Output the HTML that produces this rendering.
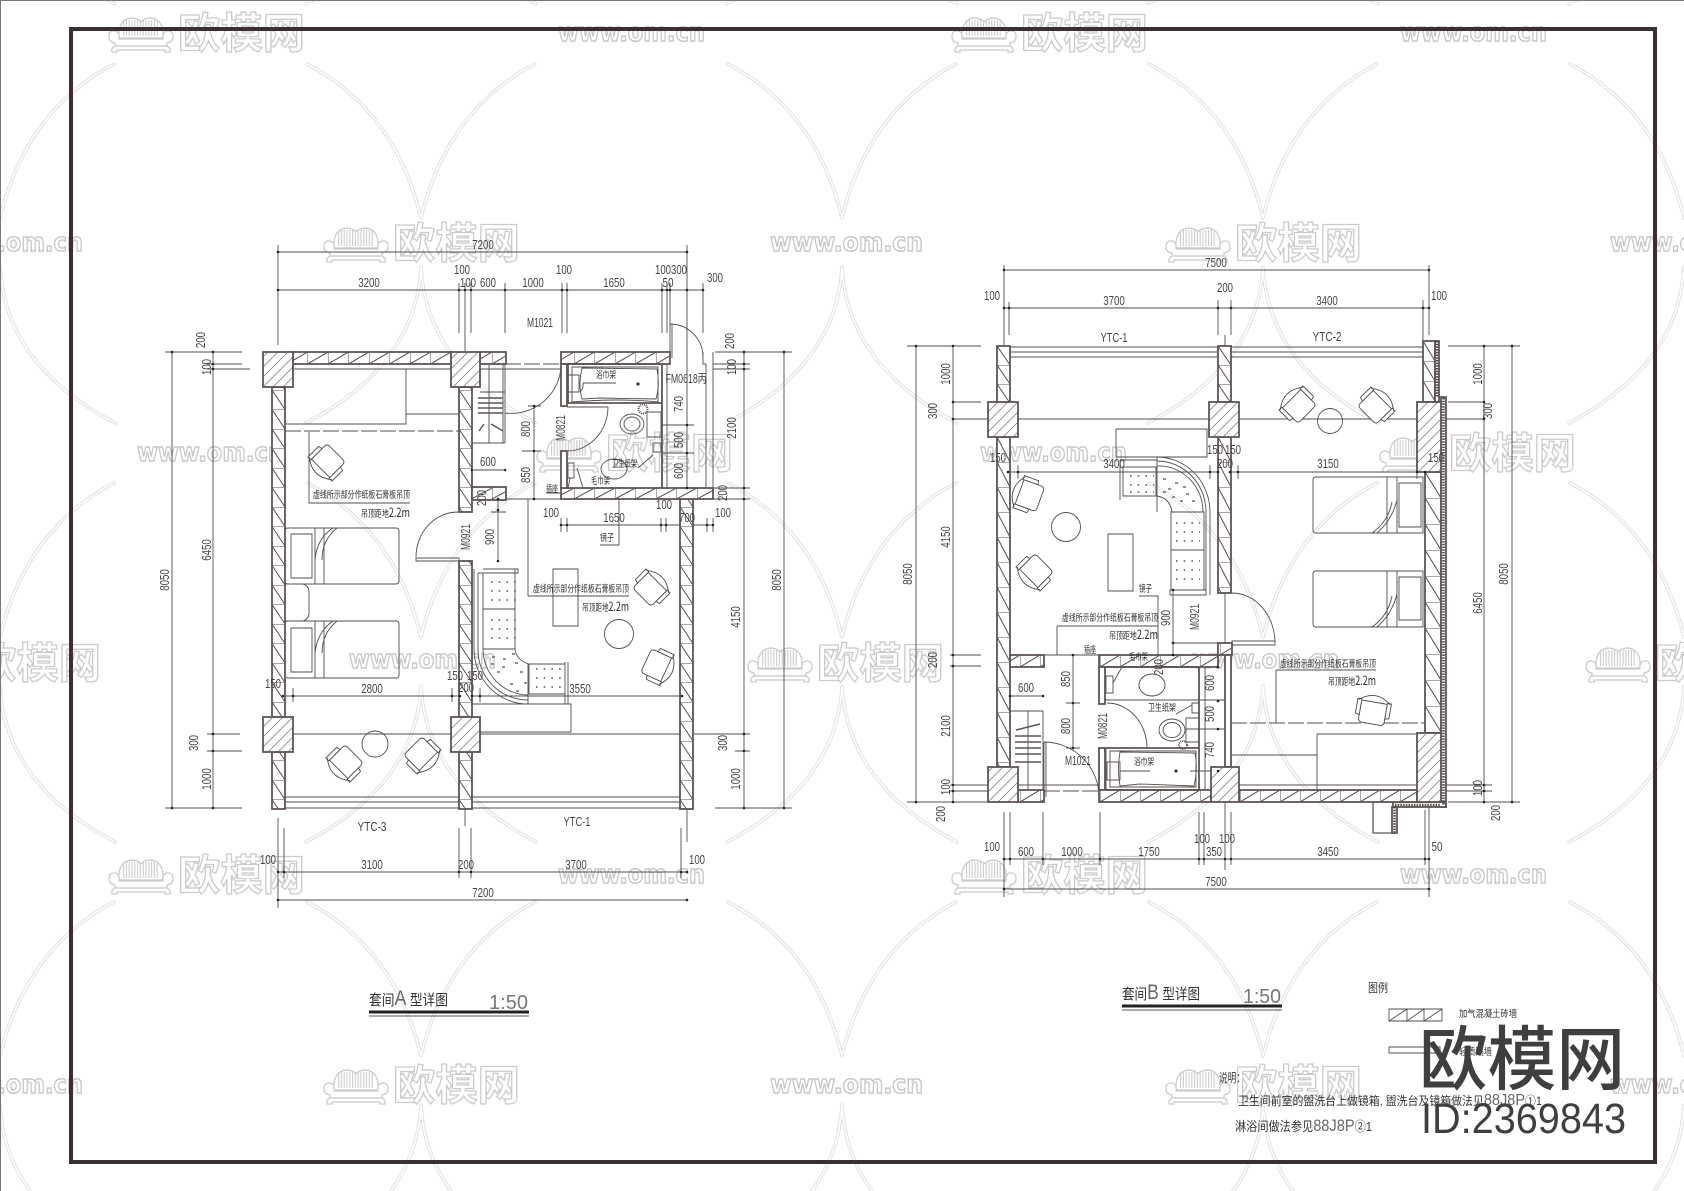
<!DOCTYPE html>
<html><head><meta charset="utf-8"><title>套间详图</title>
<style>
html,body{margin:0;padding:0;background:#fff}
svg{display:block}
text{font-family:"Liberation Sans","Noto Sans CJK SC",sans-serif;fill:#484442}
.d{font-size:12.5px;text-anchor:middle}
.c{font-size:9.5px;font-family:"Noto Sans CJK SC","Liberation Sans",sans-serif;fill:#2c2c2c}
.lg{font-size:42px;font-family:"Noto Sans CJK SC",sans-serif;font-weight:bold;fill:#fff;stroke:#cbcbcb;stroke-width:1.3}
.ww{font-size:26px;font-family:"DejaVu Sans",sans-serif;font-weight:bold;fill:#fff;stroke:#c8c8c8;stroke-width:1.5}
.l{fill:none;stroke:#534f4d;stroke-width:.9}
.ds{fill:none;stroke:#534f4d;stroke-width:.9;stroke-dasharray:16 3}
.t{fill:none;stroke:#222;stroke-width:3;stroke-linecap:round}
.w{stroke:#5d5553;stroke-width:1.8}
.h{fill:none;stroke:#5d5553;stroke-width:1.8}
.x{fill:none;stroke:#555;stroke-width:1.6;stroke-dasharray:1.6 6.1}
.ch{fill:#fff;stroke:#4f4b49;stroke-width:.9}
</style></head><body>
<svg xmlns="http://www.w3.org/2000/svg" width="1684" height="1191" viewBox="0 0 1684 1191">
<defs>
<pattern id="tile" patternUnits="userSpaceOnUse" x="-210.5" y="40" width="421" height="419">
<path d="M96.5,24Q184.5,70 210.5,178Q236.5,70 324.5,24M95.5,383Q205.5,325 210.5,227Q215.5,325 325.5,383" fill="none" stroke="#e3e3e3" stroke-width="3.6" stroke-linecap="round" stroke-linejoin="round"/>
<path d="M96.5,24Q184.5,70 210.5,178Q236.5,70 324.5,24M95.5,383Q205.5,325 210.5,227Q215.5,325 325.5,383" fill="none" stroke="#fff" stroke-width="1.5" stroke-linecap="round" stroke-linejoin="round"/>
</pattern>
<pattern id="wv" patternUnits="userSpaceOnUse" x="272" y="0" width="13" height="19.5">
<rect width="13" height="19.5" fill="#fff"/><path d="M0,0H13M0,0L13,19.5" stroke="#55504e" stroke-width="1" fill="none"/>
</pattern>
<pattern id="wvb" patternUnits="userSpaceOnUse" x="459" y="0" width="13" height="19.5">
<rect width="13" height="19.5" fill="#fff"/><path d="M0,0H13M0,0L13,19.5" stroke="#55504e" stroke-width="1" fill="none"/>
</pattern>
<pattern id="wv2" patternUnits="userSpaceOnUse" x="1010" y="437" width="13" height="25">
<rect width="13" height="25" fill="#fff"/><path d="M0,0H13M0,0L13,25" stroke="#55504e" stroke-width="1" fill="none"/>
</pattern>
<pattern id="wv3" patternUnits="userSpaceOnUse" x="1423" y="341" width="12" height="20">
<rect width="12" height="20" fill="#fff"/><path d="M0,0H12M0,0L12,20" stroke="#55504e" stroke-width="1" fill="none"/>
</pattern>
<pattern id="wv4" patternUnits="userSpaceOnUse" x="1425" y="472" width="16" height="26">
<rect width="16" height="26" fill="#fff"/><path d="M0,0H16M0,0L16,26" stroke="#55504e" stroke-width="1" fill="none"/>
</pattern>
<pattern id="wv5" patternUnits="userSpaceOnUse" x="997" y="346" width="13" height="19">
<rect width="13" height="19" fill="#fff"/><path d="M0,0H13M0,0L13,19" stroke="#55504e" stroke-width="1" fill="none"/>
</pattern>
<pattern id="wh" patternUnits="userSpaceOnUse" x="0" y="352" width="20.5" height="12">
<rect width="20.5" height="12" fill="#fff"/><path d="M0,0V12M0,12L20.5,0" stroke="#55504e" stroke-width="1" fill="none"/>
</pattern>
<pattern id="wh2" patternUnits="userSpaceOnUse" x="0" y="790" width="20" height="12">
<rect width="20" height="12" fill="#fff"/><path d="M0,0V12M0,12L20,0" stroke="#55504e" stroke-width="1" fill="none"/>
</pattern>
<pattern id="wh3" patternUnits="userSpaceOnUse" x="0" y="655" width="20" height="12">
<rect width="20" height="12" fill="#fff"/><path d="M0,0V12M0,12L20,0" stroke="#55504e" stroke-width="1" fill="none"/>
</pattern>
<pattern id="wh4" patternUnits="userSpaceOnUse" x="0" y="488" width="20.5" height="11">
<rect width="20.5" height="11" fill="#fff"/><path d="M0,0V11M0,11L20.5,0" stroke="#55504e" stroke-width="1" fill="none"/>
</pattern>
<pattern id="col" patternUnits="userSpaceOnUse" width="10" height="10">
<rect width="10" height="10" fill="#fff"/><path d="M-1,11L11,-1M-1,1L1,-1M9,11L11,9" stroke="#8f8b89" stroke-width=".9" fill="none"/>
</pattern>
<g id="ch">
<path class="ch" d="M-13,-9Q-13,-13 -9,-13H9Q13,-13 13,-9V9H-13Z"/>
<path class="ch" d="M-17,-5L-13,-6V10H-17ZM17,-5L13,-6V10H17Z"/>
<path class="ch" style="fill:none" d="M-16,9Q0,22 16,9"/>
</g>
<g id="s" fill="#fff" stroke="#cbcbcb" stroke-width="1.3">
<path d="M12,24C10,0 30,2 34,8C38,2 58,0 56,24Z"/>
<path d="M16,14H52" stroke="#d0d0d0" stroke-width="16" stroke-dasharray="1.2 1.6" fill="none"/>
<path d="M2,23Q2,16 8,17Q13,18 12,25H56Q55,18 60,17Q66,16 66,23Q66,28 60,29V32H8V29Q2,28 2,23Z"/>
<path d="M8,32H60Q64,34 63,38H58V36H10V38H5Q4,34 8,32Z"/>
</g>
</defs>
<rect width="1684" height="1191" fill="#fff"/>
<rect width="1684" height="1191" fill="url(#tile)"/>

<!-- watermark -->
<g>
<use href="#s" x="107" y="14"/><text class="lg" x="178" y="48" textLength="127" lengthAdjust="spacingAndGlyphs">欧模网</text>
<use href="#s" x="950" y="14"/><text class="lg" x="1021" y="48" textLength="127" lengthAdjust="spacingAndGlyphs">欧模网</text>
<use href="#s" x="322" y="224"/><text class="lg" x="393" y="258" textLength="127" lengthAdjust="spacingAndGlyphs">欧模网</text>
<use href="#s" x="1164" y="224"/><text class="lg" x="1235" y="258" textLength="127" lengthAdjust="spacingAndGlyphs">欧模网</text>
<use href="#s" x="535" y="434"/><text class="lg" x="606" y="468" textLength="127" lengthAdjust="spacingAndGlyphs">欧模网</text>
<use href="#s" x="1378" y="434"/><text class="lg" x="1449" y="468" textLength="127" lengthAdjust="spacingAndGlyphs">欧模网</text>
<use href="#s" x="-97" y="644"/><text class="lg" x="-26" y="678" textLength="127" lengthAdjust="spacingAndGlyphs">欧模网</text>
<use href="#s" x="746" y="644"/><text class="lg" x="817" y="678" textLength="127" lengthAdjust="spacingAndGlyphs">欧模网</text>
<use href="#s" x="1584" y="644"/><text class="lg" x="1655" y="678" textLength="127" lengthAdjust="spacingAndGlyphs">欧模网</text>
<use href="#s" x="107" y="856"/><text class="lg" x="178" y="890" textLength="127" lengthAdjust="spacingAndGlyphs">欧模网</text>
<use href="#s" x="950" y="856"/><text class="lg" x="1021" y="890" textLength="127" lengthAdjust="spacingAndGlyphs">欧模网</text>
<use href="#s" x="322" y="1066"/><text class="lg" x="393" y="1100" textLength="127" lengthAdjust="spacingAndGlyphs">欧模网</text>
<use href="#s" x="1164" y="1066"/><text class="lg" x="1235" y="1100" textLength="127" lengthAdjust="spacingAndGlyphs">欧模网</text>
<text class="ww" x="558" y="41" textLength="147" lengthAdjust="spacingAndGlyphs">www.om.cn</text>
<text class="ww" x="1400" y="41" textLength="147" lengthAdjust="spacingAndGlyphs">www.om.cn</text>
<text class="ww" x="-64" y="251" textLength="147" lengthAdjust="spacingAndGlyphs">www.om.cn</text>
<text class="ww" x="770" y="251" textLength="153" lengthAdjust="spacingAndGlyphs">www.om.cn</text>
<text class="ww" x="1610" y="251" textLength="147" lengthAdjust="spacingAndGlyphs">www.om.cn</text>
<text class="ww" x="137" y="461" textLength="147" lengthAdjust="spacingAndGlyphs">www.om.cn</text>
<text class="ww" x="980" y="461" textLength="147" lengthAdjust="spacingAndGlyphs">www.om.cn</text>
<text class="ww" x="349" y="668" textLength="147" lengthAdjust="spacingAndGlyphs">www.om.cn</text>
<text class="ww" x="1192" y="668" textLength="147" lengthAdjust="spacingAndGlyphs">www.om.cn</text>
<text class="ww" x="558" y="883" textLength="147" lengthAdjust="spacingAndGlyphs">www.om.cn</text>
<text class="ww" x="1400" y="883" textLength="147" lengthAdjust="spacingAndGlyphs">www.om.cn</text>
<text class="ww" x="-64" y="1093" textLength="147" lengthAdjust="spacingAndGlyphs">www.om.cn</text>
<text class="ww" x="770" y="1093" textLength="153" lengthAdjust="spacingAndGlyphs">www.om.cn</text>
<text class="ww" x="1610" y="1093" textLength="147" lengthAdjust="spacingAndGlyphs">www.om.cn</text>
</g>

<!-- border & frame -->
<path d="M.5,1191V.5H1684" fill="none" stroke="#777" stroke-width="1"/>
<rect x="71" y="29" width="1584" height="1133" fill="none" stroke="#3a2f36" stroke-width="4"/>

<!-- ============ PLAN A ============ -->
<path class="l" d="M278,245V345M278,352V809M278,818V908M278,252H687M278,290H703M284,828V878M459,283V333M465,283V352M471,283V333M505,283V333M562,283V333M567,283V333M662,283V333M667,283V333M670,283V325M687,245V842M703,283V333
M165,352H242M207,364H242M172,352V808M213,352V808M165,808H242M207,751H242
M715,352H792M713,364H750M713,369H750M713,488H750M713,499H750M744,352V808M784,352V808M715,808H792M735,751H750
M207,369H250M207,734H240M278,369H459M465,369H568M690,734H750M293,734H451M480,734H680
M534,406V499M528,406H541M522,451H541M500,499H561M498,499V561M491,512H506M528,499V596M528,596H629
M309,432V503H410M533,592H533
M285,424H406V369M406,414H459
M505,352V443M472,443H505M480,392H505M489,364V443M503,364V443
M505,364V413
M416,557A42,45 0 0 1 458,512M416,558H459V561H416Z
M567,407H608M608,407A41,44 0 0 1 568,451
M505,413A50,49 0 0 0 561,364
M670,324V358M672,324V358M670,324A33,33 0 0 1 703,357
M568,403V364H662V403ZM572,402Q620,398 658,402V367H572Z
M582,368L657,369Q660,385 656,399L600,398L582,399Q578,385 582,368ZM568,375H579V392H568Z
M583,383H616L597,383M583,383Q584,388 580,392
M647,412H661V437H647ZM662,425H694M662,453H694M638,468L653,455M653,443H661V452H653Z
M568,463H574V478H568ZM577,468L583,488M566,499L570,478
M546,493H562M619,487V545H600
M662,364V488M667,364V488M706,364V488M703,352V364H706M713,352V499
M561,525H713M561,518V532M567,518V532M661,518V532M666,518V532M707,518V532M713,518V532
M278,872H687M278,900H687M459,828V878M471,828V878M681,828V878M465,809V826
M283,688V702M293,688V702M452,688V702M460,688V702M472,688V702M480,688V702M283,696H680
M285,797H459M285,802H459M285,808H459M472,797H680M472,802H680M472,808H680
M288,528Q285,528 285,531V581Q285,584 288,584H396Q399,584 399,581V531Q399,528 396,528Z
M288,621Q285,621 285,624V675Q285,678 288,678H396Q399,678 399,675V624Q399,621 396,621Z
M291,534H312V578H291ZM291,628H312V672H291ZM315,528V584M324,528V584M315,621V678M324,621V678M315,560Q317,538 333,528M322,560Q322,540 337,528M315,653Q317,632 333,621M322,653Q322,633 337,621
M285,584H303Q309,586 309,592V613Q309,619 303,621H285
M553,569H578V626H553Z
M474,569V649M478,573V649M483,569H518V573H478M483,573V649H515V569M483,609H515
M474,649A54,55 0 0 0 528,704M478,649A50,50 0 0 0 528,700M483,649A46,46 0 0 0 528,695M515,649Q516,660 529,664M529,664H565V694H529ZM565,662V704M568,662V704M472,704H568M528,664V704M480,704H571V732H480"/>
<path class="ds" d="M285,431H459M505,364H561"/>
<g class="w">
<rect x="272" y="387" width="13" height="330" fill="url(#wv)"/>
<rect x="272" y="752" width="13" height="57" fill="url(#wv)"/>
<rect x="459" y="387" width="13" height="125" fill="url(#wvb)"/>
<rect x="459" y="561" width="13" height="156" fill="url(#wvb)"/>
<rect x="459" y="752" width="13" height="57" fill="url(#wvb)"/>
<rect x="680" y="499" width="13" height="310" fill="url(#wvb)"/>
<rect x="293" y="352" width="158" height="12" fill="url(#wh)"/>
<rect x="480" y="352" width="26" height="12" fill="url(#wh)"/>
<rect x="561" y="352" width="109" height="12" fill="url(#wh)"/>
<rect x="561" y="488" width="152" height="11" fill="url(#wh4)"/>
<rect x="472" y="487" width="34" height="13" fill="url(#wh4)"/>
<rect x="561" y="364" width="6" height="42" fill="#fff"/>
<rect x="561" y="451" width="6" height="37" fill="#fff"/>
<rect x="263" y="352" width="30" height="35" fill="url(#col)"/>
<rect x="451" y="352" width="29" height="35" fill="url(#col)"/>
<rect x="263" y="717" width="30" height="35" fill="url(#col)"/>
<rect x="451" y="717" width="29" height="35" fill="url(#col)"/>
</g>
<path class="l" d="M272,387H285M459,387H472"/>
<path class="h" d="M478,398H503M478,403H503M478,408H503M478,413H503M479,431L484,424M491,424L503,431" style="stroke-width:1.4"/>
<path class="h" style="stroke-width:1.8" d="M568,364H662M568,403H662M568,364V403M662,364V488"/>
<path class="x" d="M491,582H516M491,591H516M491,600H516M491,620H516M491,629H516M491,638H516M536,669H562M536,678H562M536,687H562"/>
<path class="l" d="M492,657h3M502,667h3M512,654h3M520,672h3M497,672h3M510,684h3M524,683h3M503,659h3M491,664h3M516,691h3M515,663h3" style="stroke-width:1.2"/>
<circle class="l" cx="375" cy="744" r="13"/>
<circle class="l" cx="619" cy="634" r="14.5"/>
<ellipse class="l" cx="632" cy="424" rx="12" ry="10"/>
<ellipse class="l" cx="632" cy="424" rx="8" ry="7"/>
<circle class="l" cx="643" cy="409" r="4.5" style="stroke-width:2;stroke-dasharray:1 1"/>
<ellipse class="l" cx="614" cy="469" rx="13" ry="10"/>
<circle cx="638" cy="384" r="1.6" fill="#333"/>
<use href="#ch" transform="translate(327,462) rotate(45)"/>
<use href="#ch" transform="translate(345,763) rotate(45)"/>
<use href="#ch" transform="translate(422,755) rotate(-45)"/>
<use href="#ch" transform="translate(651,588) rotate(-135)"/>
<use href="#ch" transform="translate(658,666) rotate(-65)"/>
<path class="t" d="M278,252h0M687,252h0M278,290h0M459,290h0M465,290h0M471,290h0M505,290h0M562,290h0M567,290h0M662,290h0M667,290h0M670,290h0M687,290h0M703,290h0M172,352h0M213,352h0M213,364h0M213,369h0M213,734h0M213,751h0M213,808h0M172,808h0M744,352h0M784,352h0M744,364h0M744,369h0M744,488h0M744,499h0M744,734h0M744,751h0M744,808h0M784,808h0M534,406h0M534,451h0M534,499h0M498,499h0M498,510h0M498,561h0M472,470h0M505,470h0M687,425h0M687,453h0M687,488h0M561,525h0M567,525h0M661,525h0M666,525h0M707,525h0M713,525h0M283,696h0M293,696h0M452,696h0M460,696h0M472,696h0M480,696h0M682,696h0M278,872h0M284,872h0M459,872h0M471,872h0M681,872h0M687,872h0M278,900h0M687,900h0" style="stroke-width:2.6"/>
<path class="l" d="M472,470H505"/>
<g>
<text class="d" x="483" y="249" textLength="21.6" lengthAdjust="spacingAndGlyphs">7200</text>
<text class="d" x="369" y="287" textLength="21.6" lengthAdjust="spacingAndGlyphs">3200</text>
<text class="d" x="462" y="274" textLength="16" lengthAdjust="spacingAndGlyphs">100</text>
<text class="d" x="468" y="287" textLength="16" lengthAdjust="spacingAndGlyphs">100</text>
<text class="d" x="488" y="287" textLength="16" lengthAdjust="spacingAndGlyphs">600</text>
<text class="d" x="533" y="287" textLength="21.6" lengthAdjust="spacingAndGlyphs">1000</text>
<text class="d" x="564" y="274" textLength="16" lengthAdjust="spacingAndGlyphs">100</text>
<text class="d" x="614" y="287" textLength="21.6" lengthAdjust="spacingAndGlyphs">1650</text>
<text class="d" x="663" y="274" textLength="16" lengthAdjust="spacingAndGlyphs">100</text>
<text class="d" x="679" y="274" textLength="16" lengthAdjust="spacingAndGlyphs">300</text>
<text class="d" x="668" y="287" textLength="11" lengthAdjust="spacingAndGlyphs">50</text>
<text class="d" x="715" y="282" textLength="16" lengthAdjust="spacingAndGlyphs">300</text>
<text class="d" x="540" y="327" textLength="26" lengthAdjust="spacingAndGlyphs">M1021</text>
<text class="d" x="205" y="340" transform="rotate(-90 205 340)" textLength="16" lengthAdjust="spacingAndGlyphs">200</text>
<text class="d" x="211" y="367" transform="rotate(-90 211 367)" textLength="16" lengthAdjust="spacingAndGlyphs">100</text>
<text class="d" x="211" y="550" transform="rotate(-90 211 550)" textLength="21.6" lengthAdjust="spacingAndGlyphs">6450</text>
<text class="d" x="169" y="580" transform="rotate(-90 169 580)" textLength="21.6" lengthAdjust="spacingAndGlyphs">8050</text>
<text class="d" x="198" y="743" transform="rotate(-90 198 743)" textLength="16" lengthAdjust="spacingAndGlyphs">300</text>
<text class="d" x="211" y="779" transform="rotate(-90 211 779)" textLength="21.6" lengthAdjust="spacingAndGlyphs">1000</text>
<text class="d" x="734" y="341" transform="rotate(-90 734 341)" textLength="16" lengthAdjust="spacingAndGlyphs">200</text>
<text class="d" x="736" y="367" transform="rotate(-90 736 367)" textLength="16" lengthAdjust="spacingAndGlyphs">100</text>
<text class="d" x="736" y="428" transform="rotate(-90 736 428)" textLength="21.6" lengthAdjust="spacingAndGlyphs">2100</text>
<text class="d" x="727" y="493" transform="rotate(-90 727 493)" textLength="16" lengthAdjust="spacingAndGlyphs">200</text>
<text class="d" x="740" y="617" transform="rotate(-90 740 617)" textLength="21.6" lengthAdjust="spacingAndGlyphs">4150</text>
<text class="d" x="781" y="580" transform="rotate(-90 781 580)" textLength="21.6" lengthAdjust="spacingAndGlyphs">8050</text>
<text class="d" x="727" y="743" transform="rotate(-90 727 743)" textLength="16" lengthAdjust="spacingAndGlyphs">300</text>
<text class="d" x="740" y="779" transform="rotate(-90 740 779)" textLength="21.6" lengthAdjust="spacingAndGlyphs">1000</text>
<text class="d" x="530" y="429" transform="rotate(-90 530 429)" textLength="16" lengthAdjust="spacingAndGlyphs">800</text>
<text class="d" x="530" y="475" transform="rotate(-90 530 475)" textLength="16" lengthAdjust="spacingAndGlyphs">850</text>
<text class="d" x="494" y="537" transform="rotate(-90 494 537)" textLength="16" lengthAdjust="spacingAndGlyphs">900</text>
<text class="d" x="470" y="537" transform="rotate(-90 470 537)" textLength="26" lengthAdjust="spacingAndGlyphs">M0921</text>
<text class="d" x="565" y="428" transform="rotate(-90 565 428)" textLength="26" lengthAdjust="spacingAndGlyphs">M0821</text>
<text class="d" x="488" y="466" textLength="16" lengthAdjust="spacingAndGlyphs">600</text>
<text class="d" x="486" y="498" transform="rotate(-90 486 498)" textLength="16" lengthAdjust="spacingAndGlyphs">200</text>
<text class="d" x="683" y="404" transform="rotate(-90 683 404)" textLength="16" lengthAdjust="spacingAndGlyphs">740</text>
<text class="d" x="683" y="440" transform="rotate(-90 683 440)" textLength="16" lengthAdjust="spacingAndGlyphs">500</text>
<text class="d" x="683" y="471" transform="rotate(-90 683 471)" textLength="16" lengthAdjust="spacingAndGlyphs">600</text>
<text class="d" x="686" y="383" textLength="41" lengthAdjust="spacingAndGlyphs">FM0618丙</text>
<text class="d" x="551" y="517" textLength="16" lengthAdjust="spacingAndGlyphs">100</text>
<text class="d" x="614" y="522" textLength="21.6" lengthAdjust="spacingAndGlyphs">1650</text>
<text class="d" x="664" y="509" textLength="16" lengthAdjust="spacingAndGlyphs">100</text>
<text class="d" x="687" y="522" textLength="16" lengthAdjust="spacingAndGlyphs">700</text>
<text class="d" x="723" y="517" textLength="16" lengthAdjust="spacingAndGlyphs">100</text>
<text class="d" x="273" y="688" textLength="16" lengthAdjust="spacingAndGlyphs">150</text>
<text class="d" x="372" y="693" textLength="21.6" lengthAdjust="spacingAndGlyphs">2800</text>
<text class="d" x="455" y="680" textLength="16" lengthAdjust="spacingAndGlyphs">150</text>
<text class="d" x="475" y="680" textLength="16" lengthAdjust="spacingAndGlyphs">150</text>
<text class="d" x="466" y="692" textLength="16" lengthAdjust="spacingAndGlyphs">200</text>
<text class="d" x="580" y="693" textLength="21.6" lengthAdjust="spacingAndGlyphs">3550</text>
<text class="d" x="372" y="831" textLength="29" lengthAdjust="spacingAndGlyphs">YTC-3</text>
<text class="d" x="577" y="826" textLength="27" lengthAdjust="spacingAndGlyphs">YTC-1</text>
<text class="d" x="268" y="864" textLength="16" lengthAdjust="spacingAndGlyphs">100</text>
<text class="d" x="372" y="869" textLength="21.6" lengthAdjust="spacingAndGlyphs">3100</text>
<text class="d" x="466" y="869" textLength="16" lengthAdjust="spacingAndGlyphs">200</text>
<text class="d" x="576" y="869" textLength="21.6" lengthAdjust="spacingAndGlyphs">3700</text>
<text class="d" x="697" y="864" textLength="16" lengthAdjust="spacingAndGlyphs">100</text>
<text class="d" x="483" y="897" textLength="21.6" lengthAdjust="spacingAndGlyphs">7200</text>
<text class="c" x="313" y="498" textLength="97" lengthAdjust="spacingAndGlyphs">虚线所示部分作纸板石膏板吊顶</text>
<text class="c" x="361" y="517" textLength="49" lengthAdjust="spacingAndGlyphs">吊顶距地<tspan style="font-size:12.5px">2.2m</tspan></text>
<text class="c" x="533" y="592" textLength="96" lengthAdjust="spacingAndGlyphs">虚线所示部分作纸板石膏板吊顶</text>
<text class="c" x="582" y="611" textLength="47" lengthAdjust="spacingAndGlyphs">吊顶距地<tspan style="font-size:12.5px">2.2m</tspan></text>
<text class="c" x="596" y="378" textLength="20" lengthAdjust="spacingAndGlyphs">浴巾架</text>
<text class="c" x="612" y="467" textLength="25" lengthAdjust="spacingAndGlyphs">卫生纸架</text>
<text class="c" x="591" y="484" textLength="19" lengthAdjust="spacingAndGlyphs">毛巾架</text>
<text class="c" x="546" y="492" textLength="12" lengthAdjust="spacingAndGlyphs">插座</text>
<text class="c" x="600" y="541" textLength="14" lengthAdjust="spacingAndGlyphs">镜子</text>
</g>

<!-- ============ PLAN B ============ -->
<path class="l" d="M1004,265V345M1004,346V802M1004,812V897M1004,270H1429M1004,308H1429M1009,302V335M1218,300V335M1231,300V335M1225,335V870M1423,300V341M1429,265V335M1429,420V807M1429,807V897
M907,346H981M953,402H981M950,655H981M950,666H981M950,785H1000M950,791H1000M907,802H988M916,346V802M953,346V802M953,419H1218M1231,419H1417
M1448,346H1520M1448,402H1484M1417,419H1484M1446,785H1492M1446,791H1492M1448,802H1520M1484,346V802M1512,346V802
M1008,472H1417M1008,465V479M1018,465V479M1210,465V479M1218,465V479M1230,465V479M1238,465V479M1417,465V479M1425,465V479
M1010,347H1218M1010,352H1218M1010,357H1218M1231,347H1423M1231,352H1423M1231,357H1423
M1116,429H1207V457H1116ZM1120,460V500M1123,467H1156V496H1123ZM1120,460H1157M1157,457V512
M1157,457A53,55 0 0 1 1210,512M1157,461A49,51 0 0 1 1206,512M1157,466A44,46 0 0 1 1203,512M1157,496Q1170,498 1172,512
M1171,512H1204V590H1171ZM1171,550H1204M1206,512V595M1210,512V595M1170,590H1206V595H1170Z
M1108,534H1133V591H1108Z
M1316,477Q1313,477 1313,480V530Q1313,533 1316,533H1423V477ZM1316,571Q1313,571 1313,574V624Q1313,627 1316,627H1423V571Z
M1399,483H1421V527H1399ZM1399,577H1421V620H1399ZM1387,477V533M1397,477V533M1387,571V627M1397,571V627M1397,500Q1392,520 1377,533M1392,502Q1388,522 1372,533M1397,594Q1392,614 1377,627M1392,596Q1388,616 1372,627
M1057,626H1158M1057,626V655M1276,670H1376M1276,670V723
M1139,596H1158V665M1173,590V655M1173,643H1225
M1232,593A43,50 0 0 1 1275,643M1232,641H1275V645H1232Z
M1084,655H1100M1113,683L1122,667M1106,676H1113V693H1106Z
M1105,700H1225M1176,714L1192,705M1192,703H1199V713H1192ZM1186,718H1199V742H1186Z
M1107,703A40,45 0 0 1 1147,748M1105,748H1147
M1106,748H1199V790H1106ZM1110,751H1196V787H1110ZM1120,752L1195,753Q1198,770 1194,786L1140,784L1120,786Q1117,770 1120,752ZM1107,762H1120V780H1107Z
M1120,771H1150M1190,771H1225M1186,729H1225
M1199,667V790M1205,667V790
M1010,696H1043M1010,711H1043M1028,711V790M1043,711V802M1005,785H1100
M1044,742A55,55 0 0 1 1099,797M1044,742V797M1046,742V797
M1073,655V748M1066,703H1080M1066,748H1080M1010,655H1100
M1004,859H1429M1004,889H1429M1010,812V865M1043,812V865M1100,812V865M1199,812V865M1204,812V865M1231,812V865M1425,810V865
M1317,734V790M1317,734H1417M1231,755H1317M1231,785H1417"/>
<path class="ds" d="M1231,723H1425M1044,791H1099"/>
<g class="w">
<rect x="997" y="346" width="13" height="56" fill="url(#wv5)"/>
<rect x="997" y="437" width="13" height="330" fill="url(#wv2)"/>
<rect x="1218" y="346" width="13" height="56" fill="url(#wv5)"/>
<rect x="1218" y="437" width="13" height="156" fill="url(#wv2)"/>
<rect x="1423" y="341" width="12" height="61" fill="url(#wv3)"/>
<rect x="1425" y="472" width="16" height="261" fill="url(#wv4)"/>
<rect x="1435" y="341" width="4" height="61" fill="#fff"/>
<rect x="1441" y="397" width="5" height="410" fill="#fff"/>
<rect x="1393" y="802" width="53" height="5" fill="#fff"/>
<rect x="1392" y="807" width="5" height="26" fill="#fff"/>
<rect x="1010" y="655" width="34" height="12" fill="url(#wh3)"/>
<rect x="1099" y="655" width="119" height="12" fill="url(#wh3)"/>
<rect x="1218" y="643" width="14" height="12" fill="url(#wh3)"/>
<rect x="1225" y="655" width="6" height="112" fill="#fff"/>
<rect x="1099" y="667" width="6" height="37" fill="#fff"/>
<rect x="1099" y="748" width="6" height="42" fill="#fff"/>
<rect x="1099" y="790" width="112" height="12" fill="url(#wh2)"/>
<rect x="1239" y="790" width="178" height="12" fill="url(#wh2)"/>
<rect x="1018" y="790" width="26" height="12" fill="url(#wh2)"/>
<rect x="988" y="402" width="30" height="35" fill="url(#col)"/>
<rect x="1209" y="402" width="30" height="35" fill="url(#col)"/>
<rect x="1417" y="402" width="24" height="70" fill="url(#col)"/>
<rect x="1417" y="733" width="24" height="69" fill="url(#col)"/>
<rect x="988" y="767" width="30" height="35" fill="url(#col)"/>
<rect x="1211" y="767" width="28" height="35" fill="url(#col)"/>
</g>
<path class="h" d="M1373,802V833H1392M1397,807H1393" style="stroke-width:1.3"/>
<path d="M1437,341V397M1443.5,398V805M1395,805H1441M1394.5,807V832" fill="none" stroke="#4a4644" stroke-width="2.6" stroke-dasharray="1.5 1.2"/>
<path class="h" style="stroke-width:1.5" d="M1015,736H1041M1015,742H1041M1015,748H1041M1015,754H1041M1015,762H1041M1016,730L1040,724"/>
<path class="h" d="M1106,748H1199M1106,790H1199M1105,667H1199M1199,667V790" style="stroke-width:1.8"/>
<path class="x" d="M1130,476H1154M1130,485H1154M1130,492H1154M1176,523H1200M1176,532H1200M1176,541H1200M1176,561H1200M1176,570H1200M1176,579H1200"/>
<path class="l" d="M1163,479h3M1175,483h3M1168,489h3M1183,487h3M1172,497h3M1186,494h3M1180,501h3M1192,501h3M1163,492h3" style="stroke-width:1.2"/>
<circle class="l" cx="1066" cy="527" r="14.5"/>
<circle class="l" cx="1330" cy="421" r="12.5"/>
<ellipse class="l" cx="1152" cy="685" rx="13" ry="11"/>
<ellipse class="l" cx="1172" cy="730" rx="13" ry="11"/>
<ellipse class="l" cx="1172" cy="730" rx="9" ry="7.5"/>
<circle class="l" cx="1183" cy="745" r="4" style="stroke-width:2;stroke-dasharray:1 1"/>
<circle cx="1176" cy="771" r="1.6" fill="#333"/>
<use href="#ch" transform="translate(1028,495) rotate(110)"/>
<use href="#ch" transform="translate(1035,572) rotate(45)"/>
<use href="#ch" transform="translate(1298,405) rotate(135)"/>
<use href="#ch" transform="translate(1376,406) rotate(-135)"/>
<use href="#ch" transform="translate(1373,711) rotate(190)"/>
<path class="t" style="stroke-width:2.6" d="M1004,270h0M1429,270h0M1004,308h0M1009,308h0M1218,308h0M1231,308h0M1423,308h0M1429,308h0M916,346h0M953,346h0M953,402h0M953,419h0M953,655h0M953,666h0M953,785h0M953,791h0M953,802h0M916,802h0M1484,346h0M1512,346h0M1484,402h0M1484,419h0M1484,785h0M1484,791h0M1484,802h0M1512,802h0M1008,472h0M1018,472h0M1210,472h0M1218,472h0M1230,472h0M1238,472h0M1417,472h0M1425,472h0M1173,590h0M1173,643h0M1173,655h0M1218,667h0M1218,701h0M1218,729h0M1218,771h0M1010,696h0M1043,696h0M1073,655h0M1073,703h0M1073,748h0M1004,859h0M1010,859h0M1043,859h0M1100,859h0M1199,859h0M1204,859h0M1225,859h0M1231,859h0M1425,859h0M1429,859h0M1004,889h0M1429,889h0"/>
<g>
<text class="d" x="1216" y="267" textLength="21.6" lengthAdjust="spacingAndGlyphs">7500</text>
<text class="d" x="992" y="300" textLength="16" lengthAdjust="spacingAndGlyphs">100</text>
<text class="d" x="1114" y="305" textLength="21.6" lengthAdjust="spacingAndGlyphs">3700</text>
<text class="d" x="1225" y="292" textLength="16" lengthAdjust="spacingAndGlyphs">200</text>
<text class="d" x="1327" y="305" textLength="21.6" lengthAdjust="spacingAndGlyphs">3400</text>
<text class="d" x="1439" y="300" textLength="16" lengthAdjust="spacingAndGlyphs">100</text>
<text class="d" x="1114" y="342" textLength="27" lengthAdjust="spacingAndGlyphs">YTC-1</text>
<text class="d" x="1327" y="341" textLength="29" lengthAdjust="spacingAndGlyphs">YTC-2</text>
<text class="d" x="950" y="374" transform="rotate(-90 950 374)" textLength="21.6" lengthAdjust="spacingAndGlyphs">1000</text>
<text class="d" x="937" y="411" transform="rotate(-90 937 411)" textLength="16" lengthAdjust="spacingAndGlyphs">300</text>
<text class="d" x="950" y="537" transform="rotate(-90 950 537)" textLength="21.6" lengthAdjust="spacingAndGlyphs">4150</text>
<text class="d" x="912" y="574" transform="rotate(-90 912 574)" textLength="21.6" lengthAdjust="spacingAndGlyphs">8050</text>
<text class="d" x="937" y="660" transform="rotate(-90 937 660)" textLength="16" lengthAdjust="spacingAndGlyphs">200</text>
<text class="d" x="950" y="726" transform="rotate(-90 950 726)" textLength="21.6" lengthAdjust="spacingAndGlyphs">2100</text>
<text class="d" x="950" y="787" transform="rotate(-90 950 787)" textLength="16" lengthAdjust="spacingAndGlyphs">100</text>
<text class="d" x="945" y="814" transform="rotate(-90 945 814)" textLength="16" lengthAdjust="spacingAndGlyphs">200</text>
<text class="d" x="1482" y="374" transform="rotate(-90 1482 374)" textLength="21.6" lengthAdjust="spacingAndGlyphs">1000</text>
<text class="d" x="1492" y="411" transform="rotate(-90 1492 411)" textLength="16" lengthAdjust="spacingAndGlyphs">300</text>
<text class="d" x="1482" y="603" transform="rotate(-90 1482 603)" textLength="21.6" lengthAdjust="spacingAndGlyphs">6450</text>
<text class="d" x="1508" y="574" transform="rotate(-90 1508 574)" textLength="21.6" lengthAdjust="spacingAndGlyphs">8050</text>
<text class="d" x="1482" y="788" transform="rotate(-90 1482 788)" textLength="16" lengthAdjust="spacingAndGlyphs">100</text>
<text class="d" x="1500" y="813" transform="rotate(-90 1500 813)" textLength="16" lengthAdjust="spacingAndGlyphs">200</text>
<text class="d" x="998" y="462" textLength="16" lengthAdjust="spacingAndGlyphs">150</text>
<text class="d" x="1114" y="468" textLength="21.6" lengthAdjust="spacingAndGlyphs">3400</text>
<text class="d" x="1215" y="454" textLength="16" lengthAdjust="spacingAndGlyphs">150</text>
<text class="d" x="1233" y="454" textLength="16" lengthAdjust="spacingAndGlyphs">150</text>
<text class="d" x="1225" y="468" textLength="16" lengthAdjust="spacingAndGlyphs">200</text>
<text class="d" x="1328" y="468" textLength="21.6" lengthAdjust="spacingAndGlyphs">3150</text>
<text class="d" x="1436" y="462" textLength="16" lengthAdjust="spacingAndGlyphs">150</text>
<text class="d" x="1170" y="618" transform="rotate(-90 1170 618)" textLength="16" lengthAdjust="spacingAndGlyphs">900</text>
<text class="d" x="1199" y="617" transform="rotate(-90 1199 617)" textLength="26" lengthAdjust="spacingAndGlyphs">M0921</text>
<text class="d" x="1163" y="667" transform="rotate(-90 1163 667)" textLength="16" lengthAdjust="spacingAndGlyphs">200</text>
<text class="d" x="1107" y="726" transform="rotate(-90 1107 726)" textLength="26" lengthAdjust="spacingAndGlyphs">M0821</text>
<text class="d" x="1214" y="683" transform="rotate(-90 1214 683)" textLength="16" lengthAdjust="spacingAndGlyphs">600</text>
<text class="d" x="1214" y="714" transform="rotate(-90 1214 714)" textLength="16" lengthAdjust="spacingAndGlyphs">500</text>
<text class="d" x="1214" y="750" transform="rotate(-90 1214 750)" textLength="16" lengthAdjust="spacingAndGlyphs">740</text>
<text class="d" x="1026" y="692" textLength="16" lengthAdjust="spacingAndGlyphs">600</text>
<text class="d" x="1070" y="679" transform="rotate(-90 1070 679)" textLength="16" lengthAdjust="spacingAndGlyphs">850</text>
<text class="d" x="1070" y="726" transform="rotate(-90 1070 726)" textLength="16" lengthAdjust="spacingAndGlyphs">800</text>
<text class="d" x="1078" y="765" textLength="26" lengthAdjust="spacingAndGlyphs">M1021</text>
<text class="d" x="992" y="851" textLength="16" lengthAdjust="spacingAndGlyphs">100</text>
<text class="d" x="1026" y="856" textLength="16" lengthAdjust="spacingAndGlyphs">600</text>
<text class="d" x="1072" y="856" textLength="21.6" lengthAdjust="spacingAndGlyphs">1000</text>
<text class="d" x="1149" y="856" textLength="21.6" lengthAdjust="spacingAndGlyphs">1750</text>
<text class="d" x="1202" y="843" textLength="16" lengthAdjust="spacingAndGlyphs">100</text>
<text class="d" x="1214" y="856" textLength="16" lengthAdjust="spacingAndGlyphs">350</text>
<text class="d" x="1227" y="843" textLength="16" lengthAdjust="spacingAndGlyphs">100</text>
<text class="d" x="1328" y="856" textLength="21.6" lengthAdjust="spacingAndGlyphs">3450</text>
<text class="d" x="1437" y="851" textLength="11" lengthAdjust="spacingAndGlyphs">50</text>
<text class="d" x="1216" y="886" textLength="21.6" lengthAdjust="spacingAndGlyphs">7500</text>
<text class="c" x="1062" y="621" textLength="96" lengthAdjust="spacingAndGlyphs">虚线所示部分作纸板石膏板吊顶</text>
<text class="c" x="1109" y="639" textLength="49" lengthAdjust="spacingAndGlyphs">吊顶距地<tspan style="font-size:12.5px">2.2m</tspan></text>
<text class="c" x="1280" y="667" textLength="96" lengthAdjust="spacingAndGlyphs">虚线所示部分作纸板石膏板吊顶</text>
<text class="c" x="1328" y="685" textLength="48" lengthAdjust="spacingAndGlyphs">吊顶距地<tspan style="font-size:12.5px">2.2m</tspan></text>
<text class="c" x="1139" y="592" textLength="13" lengthAdjust="spacingAndGlyphs">镜子</text>
<text class="c" x="1084" y="653" textLength="12" lengthAdjust="spacingAndGlyphs">插座</text>
<text class="c" x="1129" y="660" textLength="19" lengthAdjust="spacingAndGlyphs">毛巾架</text>
<text class="c" x="1148" y="711" textLength="28" lengthAdjust="spacingAndGlyphs">卫生纸架</text>
<text class="c" x="1134" y="765" textLength="20" lengthAdjust="spacingAndGlyphs">浴巾架</text>
</g>

<!-- titles -->
<text x="369" y="1005" textLength="79" lengthAdjust="spacingAndGlyphs" style="font-size:15px;fill:#333">套间<tspan style="font-size:21px;fill:#666">A</tspan> 型详图</text>
<text x="489" y="1009" textLength="39" lengthAdjust="spacingAndGlyphs" style="font-size:20px;fill:#777">1:50</text>
<path d="M369,1012H529" stroke="#222" stroke-width="3"/><path d="M369,1016H529" stroke="#555" stroke-width="1"/>
<text x="1122" y="999" textLength="78" lengthAdjust="spacingAndGlyphs" style="font-size:15px;fill:#333">套间<tspan style="font-size:21px;fill:#666">B</tspan> 型详图</text>
<text x="1243" y="1003" textLength="38" lengthAdjust="spacingAndGlyphs" style="font-size:20px;fill:#777">1:50</text>
<path d="M1122,1006H1282" stroke="#222" stroke-width="3"/><path d="M1122,1010H1282" stroke="#555" stroke-width="1"/>
<text x="1368" y="992" textLength="20" lengthAdjust="spacingAndGlyphs" style="font-size:12px;fill:#333">图例</text>
<path class="l" d="M1389,1009H1442V1021H1389ZM1407,1009V1021M1424,1009V1021M1389,1021L1407,1009M1407,1021L1424,1009M1424,1021L1442,1009M1389,1047H1440V1053H1389Z"/>
<text class="c" x="1459" y="1017" textLength="58" lengthAdjust="spacingAndGlyphs">加气混凝土砖墙</text>
<text class="c" x="1459" y="1055" textLength="33" lengthAdjust="spacingAndGlyphs">轻质隔墙</text>
<text x="1219" y="1082" textLength="26" lengthAdjust="spacingAndGlyphs" style="font-size:12px;fill:#333">说明：</text>
<text x="1238" y="1105" textLength="304" lengthAdjust="spacingAndGlyphs" style="font-size:12px;fill:#333">卫生间前室的盥洗台上做镜箱, 盥洗台及镜箱做法见<tspan style="font-size:16px;fill:#666">88J8P</tspan>①1</text>
<text x="1235" y="1131" textLength="137" lengthAdjust="spacingAndGlyphs" style="font-size:13px;fill:#333">淋浴间做法参见<tspan style="font-size:17px;fill:#666">88J8P</tspan>②1</text>

<!-- stamp -->
<text x="1419" y="1084" textLength="206" lengthAdjust="spacingAndGlyphs" style="font-size:70px;font-family:'Noto Sans CJK SC',sans-serif;fill:#3f3f3f;font-weight:500">欧模网</text>
<text x="1421" y="1133" textLength="205" lengthAdjust="spacingAndGlyphs" style="font-size:43px;fill:#3f3f3f">ID:2369843</text>
</svg>
</body></html>
